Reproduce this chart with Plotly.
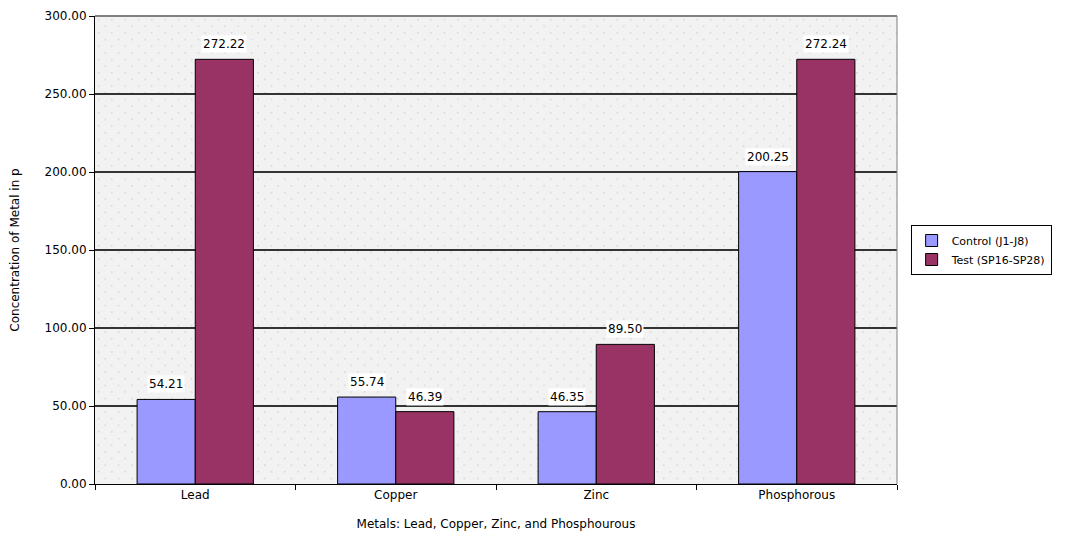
import base64
import plotly.graph_objects as go

categories = ["Lead", "Copper", "Zinc", "Phosphorous"]
control = [54.21, 55.74, 46.35, 200.25]
test = [272.22, 46.39, 89.50, 272.24]
series_names = ["Control (J1-J8)", "Test (SP16-SP28)"]
colors = ["#9999ff", "#993366"]
y_ticks = [0, 50, 100, 150, 200, 250, 300]

FONT = "DejaVu Sans, Verdana, sans-serif"
FS = 12

fig = go.Figure()
for name, vals, col in zip(series_names, [control, test], colors):
    fig.add_trace(go.Bar(
        x=categories, y=vals, name=name,
        marker=dict(color=col, line=dict(color="#000000", width=1)),
    ))

annotations = []
for vals, shift in [(control, -29), (test, 29)]:
    for c, v in zip(categories, vals):
        annotations.append(dict(
            x=c, y=v, xref="x", yref="y", text=f"{v:.2f}",
            showarrow=False, xshift=shift, yshift=15, bgcolor="#ffffff",
            font=dict(family=FONT, size=FS, color="#000000"),
        ))

# dotted background texture for the plot area
svg = (
    '<svg xmlns="http://www.w3.org/2000/svg" width="802" height="468">'
    '<defs><pattern id="p" width="13.3" height="13.3" patternUnits="userSpaceOnUse">'
    '<rect x="3" y="3" width="1.2" height="1.2" fill="#c4c4c4"/>'
    '<rect x="9.65" y="9.65" width="1.2" height="1.2" fill="#c4c4c4"/>'
    '</pattern></defs>'
    '<rect width="802" height="468" fill="#f2f2f2"/>'
    '<rect width="802" height="468" fill="url(#p)"/></svg>'
)
svg_uri = "data:image/svg+xml;base64," + base64.b64encode(svg.encode()).decode()

fig.update_layout(
    width=1057, height=532,
    margin=dict(l=87, r=168, t=8, b=56),
    paper_bgcolor="#ffffff", plot_bgcolor="#f2f2f2",
    barmode="group", bargap=0.42, bargroupgap=0,
    font=dict(family=FONT, size=FS, color="#000000"),
    annotations=annotations,
    images=[dict(source=svg_uri, xref="paper", yref="paper", x=0, y=1,
                 sizex=1, sizey=1, xanchor="left", yanchor="top",
                 sizing="stretch", layer="below")],
    legend=dict(
        x=1.017, y=0.50, xanchor="left", yanchor="middle",
        bgcolor="#ffffff", bordercolor="#000000", borderwidth=1,
        font=dict(family=FONT, size=11), tracegroupgap=0,
        itemwidth=30,
    ),
    showlegend=True,
)
fig.update_xaxes(
    automargin=False,
    tickson="boundaries", ticks="outside", ticklen=5, tickcolor="#000000",
    showline=True, linecolor="#000000", linewidth=1, mirror=False,
    showgrid=False,
    title=dict(text="Metals: Lead, Copper, Zinc, and Phosphourous", standoff=18,
               font=dict(family=FONT, size=FS)),
)
fig.update_yaxes(
    automargin=False,
    range=[0, 300], tickvals=y_ticks, tickformat=".2f",
    ticks="outside", ticklen=5, tickcolor="#000000",
    showline=True, linecolor="#000000", linewidth=1,
    showgrid=True, gridcolor="#333333", gridwidth=1.5,
    zeroline=False, ticklabeloverflow="allow",
    title=dict(text="Concentration of Metal in p", standoff=24,
               font=dict(family=FONT, size=FS)),
)
fig.add_shape(type="line", xref="paper", yref="paper", x0=0, x1=1, y0=1, y1=1,
              line=dict(color="#808080", width=2))
fig.add_shape(type="line", xref="paper", yref="paper", x0=1, x1=1, y0=0, y1=1,
              line=dict(color="#808080", width=1))

fig.write_html("out.html")
